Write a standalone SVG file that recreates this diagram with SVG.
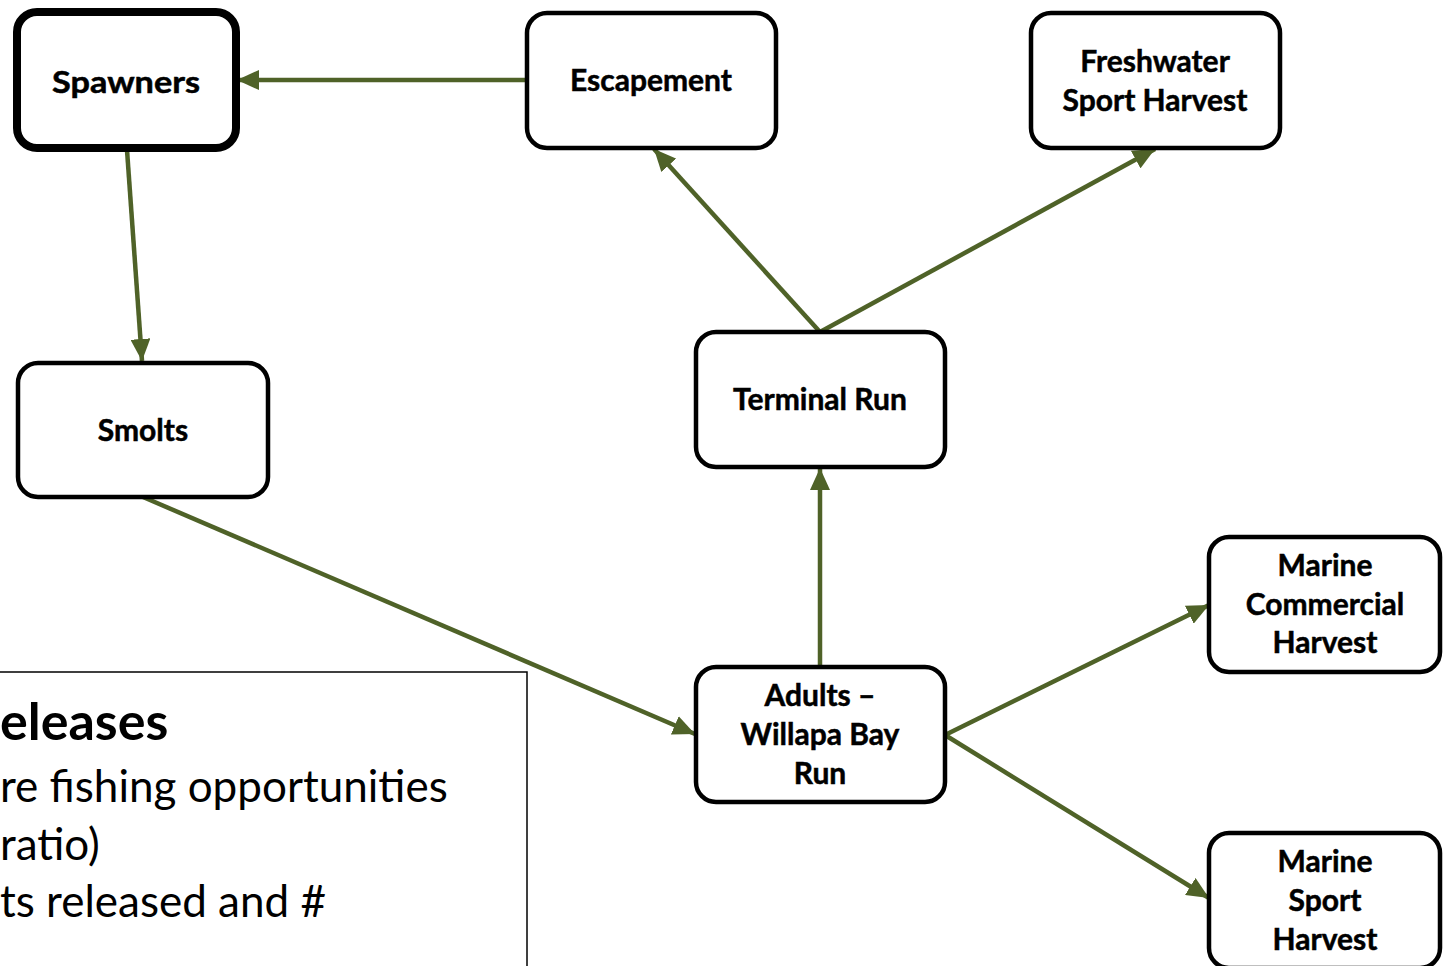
<svg xmlns="http://www.w3.org/2000/svg" width="1447" height="966" viewBox="0 0 1447 966">
  <style>
    .box { fill: #ffffff; stroke: #000000; stroke-width: 4.5; }
    .box-main { fill: #ffffff; stroke: #000000; stroke-width: 8; }
    .label { font-family: Lato, "Open Sans", "Liberation Sans", sans-serif; font-weight: 700; font-size: 30px; fill: #000000; text-anchor: middle; stroke: #000000; stroke-width: 0.5; }
    .link { stroke: #4f6228; stroke-width: 4.5; fill: none; marker-end: url(#arrow); }
    .note { font-family: Lato, "Open Sans", "Liberation Sans", sans-serif; fill: #000000; }
  </style>
  <defs>
    <marker id="arrow" markerUnits="userSpaceOnUse" markerWidth="22" markerHeight="20" viewBox="0 0 22 20" refX="22" refY="10" orient="auto">
      <path d="M0,0 L22,10 L0,20 Z" fill="#4f6228"/>
    </marker>
  </defs>

  <rect width="1447" height="966" fill="#ffffff"/>

  <!-- text panel, partly off the left and bottom edges -->
  <g id="notes">
    <rect x="-10" y="672" width="537" height="310" fill="#ffffff" stroke="#000000" stroke-width="1.5"/>
    <text class="note" x="0" y="740" font-size="52" font-weight="700">eleases</text>
    <text class="note" x="0" y="802" font-size="44">re fishing opportunities</text>
    <text class="note" x="0" y="860" font-size="44">ratio)</text>
    <text class="note" x="0" y="917" font-size="44">ts released and #</text>
  </g>

  <!-- connectors -->
  <g id="connectors">
    <line class="link" x1="527" y1="80" x2="237" y2="80"/>
    <line class="link" x1="127" y1="150" x2="142" y2="361"/>
    <line class="link" x1="143" y1="497" x2="695" y2="734"/>
    <line class="link" x1="820" y1="667" x2="820" y2="468"/>
    <line class="link" x1="820" y1="332" x2="654" y2="149"/>
    <line class="link" x1="820" y1="332" x2="1155" y2="149"/>
    <line class="link" x1="945" y1="735" x2="1209" y2="605"/>
    <line class="link" x1="945" y1="735" x2="1209" y2="898"/>
  </g>

  <g id="spawners">
    <rect class="box-main" x="17" y="12" width="219" height="136" rx="20"/>
    <text class="label" x="126" y="93" font-size="36" textLength="148" lengthAdjust="spacingAndGlyphs">Spawners</text>
  </g>

  <g id="escapement">
    <rect class="box" x="527" y="13" width="249" height="135" rx="20"/>
    <text class="label" x="651" y="91">Escapement</text>
  </g>

  <g id="freshwater-sport-harvest">
    <rect class="box" x="1031" y="13" width="249" height="135" rx="20"/>
    <text class="label" x="1155" y="72">Freshwater</text>
    <text class="label" x="1155" y="111">Sport Harvest</text>
  </g>

  <g id="smolts">
    <rect class="box" x="18" y="363" width="250" height="134" rx="20"/>
    <text class="label" x="143" y="441">Smolts</text>
  </g>

  <g id="terminal-run">
    <rect class="box" x="696" y="332" width="249" height="135" rx="20"/>
    <text class="label" x="820" y="410">Terminal Run</text>
  </g>

  <g id="adults-willapa-bay-run">
    <rect class="box" x="696" y="667" width="249" height="135" rx="20"/>
    <text class="label" x="820" y="706">Adults –</text>
    <text class="label" x="820" y="745">Willapa Bay</text>
    <text class="label" x="820" y="784">Run</text>
  </g>

  <g id="marine-commercial-harvest">
    <rect class="box" x="1209" y="537" width="231" height="135" rx="20"/>
    <text class="label" x="1325" y="576">Marine</text>
    <text class="label" x="1325" y="615">Commercial</text>
    <text class="label" x="1325" y="653">Harvest</text>
  </g>

  <g id="marine-sport-harvest">
    <rect class="box" x="1209" y="833" width="231" height="135" rx="20"/>
    <text class="label" x="1325" y="872">Marine</text>
    <text class="label" x="1325" y="911">Sport</text>
    <text class="label" x="1325" y="950">Harvest</text>
  </g>
</svg>
